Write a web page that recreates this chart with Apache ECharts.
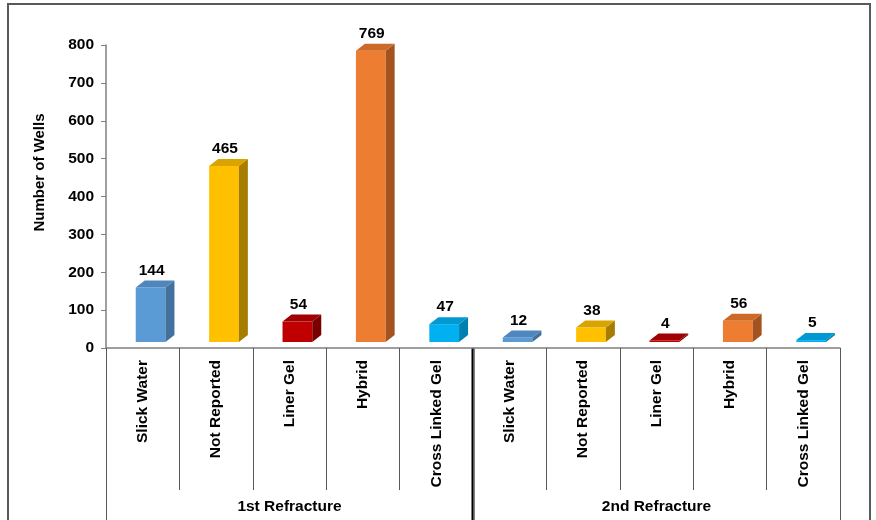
<!DOCTYPE html>
<html><head><meta charset="utf-8">
<script src="https://cdn.jsdelivr.net/npm/echarts@6/dist/echarts.min.js"></script>
<style>html,body{margin:0;padding:0;background:#fff}#c{width:876px;height:520px}</style>
</head><body><div id="c"></div>
<script>
const fluidTypes = ['Slick Water','Not Reported','Liner Gel','Hybrid','Cross Linked Gel'];
const groups = ['1st Refracture','2nd Refracture'];
const firstRefracture = [144, 465, 54, 769, 47];
const secondRefracture = [12, 38, 4, 56, 5];
const yTicks = [0,100,200,300,400,500,600,700,800];

const faceColors = [
  ['#5B9BD5','#41719C','#4E86BD'],
  ['#FFC000','#A67D00','#D9A300'],
  ['#C00000','#7A0000','#A00000'],
  ['#ED7D31','#A5531E','#CC6A28'],
  ['#00B0F0','#0080B0','#0099D1']
];

const categories = fluidTypes.concat(fluidTypes);
const values = firstRefracture.concat(secondRefracture);
const data = values.map((v,i)=>[i,v]);
const FONT = 'Arial, "Liberation Sans", sans-serif';
const FS = 15.5;

const chart = echarts.init(document.getElementById('c'));
const option = {
  animation:false,
  backgroundColor:'#fff',
  grid:{left:106,right:36,top:45,bottom:172,containLabel:false},
  xAxis:[{
    type:'category', data:categories, position:'bottom',
    axisLine:{lineStyle:{color:'#7f7f7f',width:1.5}},
    axisTick:{show:true,interval:0,length:142,lineStyle:{color:'#595959',width:1}},
    axisLabel:{interval:0,rotate:90,margin:12,fontFamily:FONT,fontWeight:'bold',fontSize:FS,color:'#000'},
    splitLine:{show:false}
  },{
    type:'category', data:groups, position:'bottom', gridIndex:0,
    axisLine:{show:false},
    axisTick:{show:true,interval:0,length:180,lineStyle:{color:'#595959',width:1}},
    axisLabel:{interval:0,margin:151,fontFamily:FONT,fontWeight:'bold',fontSize:FS,color:'#000'}
  }],
  yAxis:{
    type:'value', min:0, max:800, interval:100,
    name:'Number of Wells', nameLocation:'middle', nameGap:59, nameRotate:90,
    nameTextStyle:{fontFamily:FONT,fontWeight:'bold',fontSize:15,color:'#000',padding:[0,0,0,48]},
    axisLine:{show:true,lineStyle:{color:'#7f7f7f',width:1.5}},
    axisTick:{show:true,length:5,lineStyle:{color:'#7f7f7f'}},
    axisLabel:{margin:12,fontFamily:FONT,fontWeight:'bold',fontSize:FS,color:'#000',
      formatter:v=>yTicks.includes(v)?String(v):''},
    splitLine:{show:false}
  },
  series:[{
    type:'custom',
    xAxisIndex:0,
    data:data,
    renderItem:function(params, api){
      const idx = api.value(0), v = api.value(1);
      const base = api.coord([idx,0]);
      const top = api.coord([idx,v]);
      const cw = api.size([1,0])[0];
      const bw = cw*0.405, lift = 6, dx = 9, dy = 7;
      const x0 = base[0] - cw*0.095, x1 = x0 + bw;
      const yb = base[1]-lift, yt = top[1]-lift;
      const c = faceColors[idx % 5];
      return {type:'group',children:[
        {type:'rect',shape:{x:x0,y:yt,width:bw,height:yb-yt},style:{fill:c[0]}},
        {type:'polygon',shape:{points:[[x1,yb],[x1+dx,yb-dy],[x1+dx,yt-dy],[x1,yt]]},style:{fill:c[1]}},
        {type:'polygon',shape:{points:[[x0,yt],[x0+dx,yt-dy],[x1+dx,yt-dy],[x1,yt]]},style:{fill:c[2]}},
        {type:'text',x:(x0+x1)/2+1,y:yt-dy-2,style:{text:String(v),fill:'#000',font:'bold '+FS+'px '+FONT,textAlign:'center',textVerticalAlign:'bottom'}}
      ]};
    }
  }],
  graphic:[{type:'rect',shape:{x:8,y:4,width:862,height:540},style:{fill:null,stroke:'#595959',lineWidth:2},silent:true,z:-1}]
};
chart.setOption(option);
const mid = chart.convertToPixel({xAxisIndex:1}, groups[0]);
const mid2 = chart.convertToPixel({xAxisIndex:1}, groups[1]);
const sepX = (mid+mid2)/2;
const axisY = chart.convertToPixel({yAxisIndex:0}, 0);
chart.setOption({graphic:[option.graphic[0],{type:'line',shape:{x1:sepX,y1:axisY,x2:sepX,y2:530},style:{stroke:'#000',lineWidth:3},silent:true}]});
</script></body></html>
